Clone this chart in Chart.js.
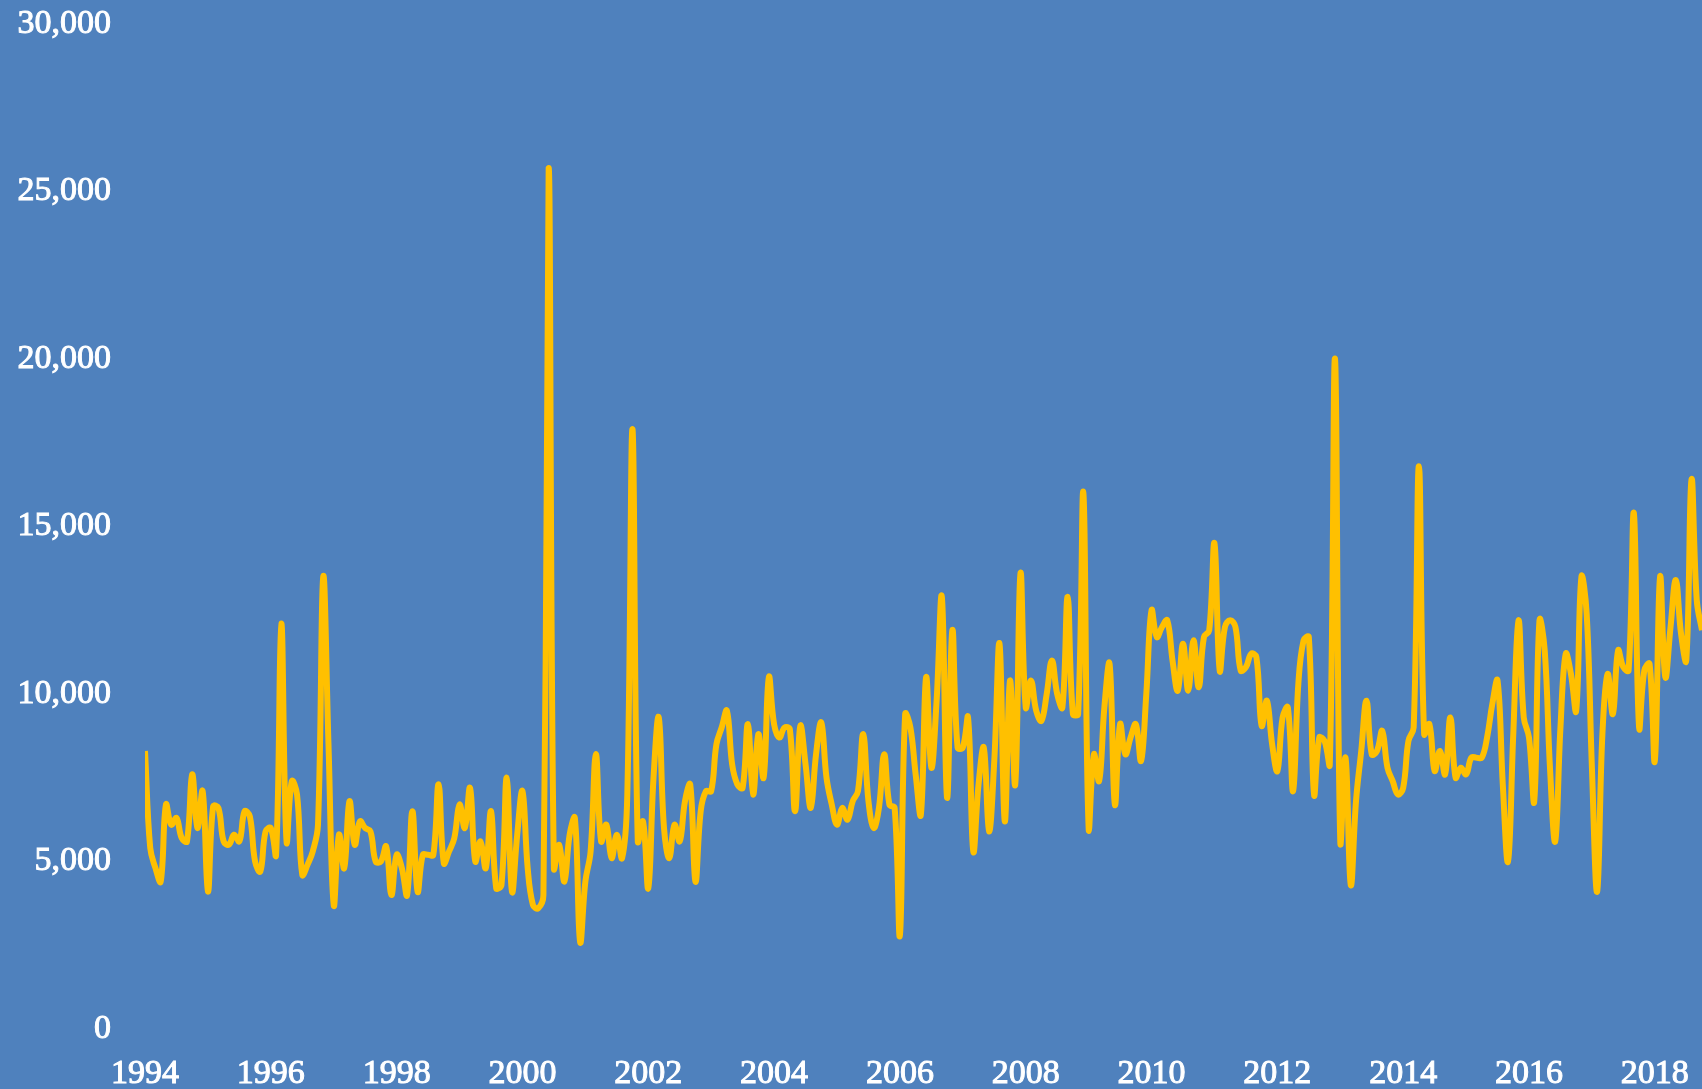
<!DOCTYPE html>
<html>
<head>
<meta charset="utf-8">
<script src="https://cdn.jsdelivr.net/npm/chart.js@4.4.1/dist/chart.umd.min.js"></script>
<style>
  html, body { margin: 0; padding: 0; background: #4F81BD; }
  #wrap { width: 1702px; height: 1089px; position: relative; }
</style>
</head>
<body>
<div id="wrap"><canvas id="chart"></canvas></div>
<script>
// Monthly values, one row per year (Jan..Dec), last year ends in October
const years = [1994, 1995, 1996, 1997, 1998, 1999, 2000, 2001, 2002, 2003, 2004, 2005,
               2006, 2007, 2008, 2009, 2010, 2011, 2012, 2013, 2014, 2015, 2016, 2017, 2018];
const monthlyValues = [
  [8300, 5400, 4800, 4400, 6700, 6100, 6300, 5700, 5600, 7600, 6000, 7100],
  [4100, 6650, 6600, 5600, 5500, 5800, 5600, 6500, 6350, 5000, 4700, 5900],
  [6000, 5200, 12100, 5600, 7400, 7000, 4600, 4900, 5300, 6100, 13500, 8500],
  [3700, 5800, 4800, 6800, 5500, 6200, 6000, 5900, 5000, 5000, 5450, 4000],
  [5200, 4800, 4000, 6500, 4100, 5200, 5200, 5200, 7300, 4950, 5300, 5700],
  [6700, 6000, 7200, 5000, 5600, 4800, 6500, 4200, 4300, 7500, 4100, 5800],
  [7100, 4800, 3700, 3600, 4000, 25700, 4800, 5500, 4400, 5800, 6300, 2600],
  [4400, 5300, 8200, 5600, 6100, 5100, 5800, 5100, 7000, 17900, 5600, 6200],
  [4200, 7500, 9300, 6000, 5100, 6100, 5600, 6800, 7300, 4400, 6500, 7100],
  [7100, 8500, 9000, 9500, 7900, 7300, 7200, 9100, 7000, 8800, 7500, 10500],
  [9100, 8700, 9000, 8950, 6500, 9050, 7900, 6600, 8200, 9150, 7500, 6700],
  [6100, 6600, 6250, 6800, 7100, 8800, 6800, 6000, 6600, 8200, 6700, 6600],
  [2800, 9400, 9000, 7600, 6400, 10500, 7800, 9800, 12900, 6900, 11900, 8400],
  [8400, 9300, 5300, 7300, 8400, 5900, 8000, 11500, 6200, 10400, 7300, 13600],
  [9600, 10400, 9500, 9200, 10000, 11000, 10000, 9600, 12900, 9400, 9400, 16000],
  [6000, 8200, 7400, 9600, 10900, 6700, 9100, 8200, 8700, 9100, 8000, 10000],
  [12500, 11700, 12000, 12200, 11000, 10100, 11500, 10100, 11600, 10200, 11700, 11900],
  [14500, 10700, 12000, 12200, 12000, 10700, 10800, 11200, 11100, 9050, 9800, 8500],
  [7700, 9300, 9600, 7100, 10300, 11600, 11700, 7000, 8700, 8600, 7900, 20000],
  [5600, 8100, 4300, 6800, 8300, 9800, 8200, 8300, 8900, 7800, 7400, 7000],
  [7200, 8600, 9000, 16800, 8800, 9100, 7700, 8300, 7600, 9300, 7500, 7800],
  [7600, 8100, 8100, 8100, 8700, 9700, 10400, 7300, 5000, 8800, 12200, 9300],
  [8700, 6800, 12200, 11300, 7800, 5600, 9000, 11200, 10600, 9500, 13500, 12400],
  [7800, 4100, 8800, 10600, 9400, 11300, 10800, 10700, 15400, 9000, 10700, 10900],
  [8000, 13500, 10500, 12000, 13400, 11800, 11000, 16400, 12800, 11900]
];
const xTicks = [1994, 1996, 1998, 2000, 2002, 2004, 2006, 2008, 2010, 2012, 2014, 2016, 2018];
const yTicks = [0, 5000, 10000, 15000, 20000, 25000, 30000];

const points = [];
monthlyValues.forEach((row, i) => {
  row.forEach((v, j) => points.push({ x: years[i] + j / 12, y: v }));
});
const lastX = points[points.length - 1].x;

const labelFont = { family: "'Liberation Serif', 'Times New Roman', serif", size: 34 };

new Chart(document.getElementById('chart'), {
  type: 'line',
  data: {
    datasets: [{
      data: points,
      borderColor: '#FFC000',
      borderWidth: 6,
      pointRadius: 0,
      tension: 0.4,
      fill: false
    }]
  },
  options: {
    responsive: true,
    maintainAspectRatio: false,
    animation: false,
    layout: { padding: { top: 24, right: 0, bottom: 0, left: 0 } },
    plugins: { legend: { display: false }, tooltip: { enabled: false } },
    scales: {
      x: {
        type: 'linear',
        min: years[0],
        max: lastX,
        grid: { display: false, drawTicks: false },
        border: { display: false },
        afterBuildTicks: (s) => { s.ticks = xTicks.map(v => ({ value: v })); },
        afterFit: (s) => { s.height = 60; s.paddingLeft = 0; s.paddingRight = 0; },
        ticks: {
          color: '#FFFFFF',
          font: labelFont,
          textStrokeColor: '#FFFFFF',
          textStrokeWidth: 1,
          padding: 25,
          maxRotation: 0,
          autoSkip: false,
          callback: (v) => String(v)
        }
      },
      y: {
        min: 0,
        max: 30000,
        grid: { display: false, drawTicks: false },
        border: { display: false },
        afterBuildTicks: (s) => { s.ticks = yTicks.map(v => ({ value: v })); },
        afterFit: (s) => { s.width = 145; s.paddingTop = 0; s.paddingBottom = 0; },
        ticks: {
          color: '#FFFFFF',
          font: labelFont,
          textStrokeColor: '#FFFFFF',
          textStrokeWidth: 1,
          padding: 34,
          callback: (v) => v.toLocaleString('en-US')
        }
      }
    }
  }
});
</script>
</body>
</html>
